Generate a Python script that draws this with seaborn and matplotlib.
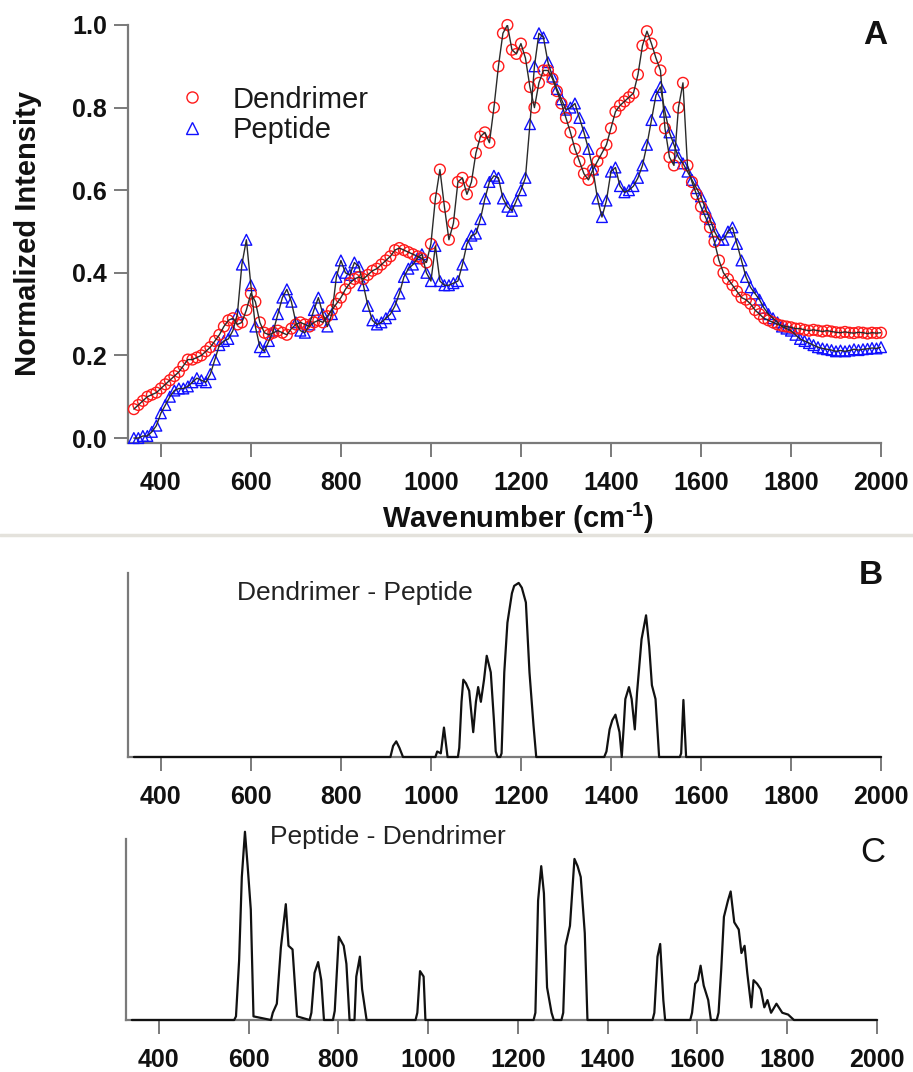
import numpy as np
import pandas as pd
import matplotlib
matplotlib.use("Agg")
import matplotlib.pyplot as plt
from matplotlib.lines import Line2D
import seaborn as sns

# ---------------- data ----------------
WAVENUMBER = list(range(340, 2001, 10))

DENDRIMER = [
    0.07, 0.08, 0.09, 0.10, 0.105, 0.11, 0.12, 0.13, 0.14, 0.15,        # 340-430
    0.16, 0.175, 0.19, 0.19, 0.195, 0.20, 0.21, 0.22, 0.235, 0.25,      # 440-530
    0.27, 0.285, 0.29, 0.275, 0.28, 0.31, 0.35, 0.33, 0.28, 0.255,      # 540-630
    0.25, 0.255, 0.26, 0.255, 0.25, 0.265, 0.275, 0.28, 0.275, 0.27,    # 640-730
    0.28, 0.285, 0.28, 0.295, 0.31, 0.325, 0.34, 0.36, 0.375, 0.385,    # 740-830
    0.39, 0.385, 0.395, 0.405, 0.41, 0.42, 0.43, 0.44, 0.455, 0.46,     # 840-930
    0.455, 0.45, 0.445, 0.44, 0.435, 0.425, 0.47, 0.58, 0.65, 0.56,     # 940-1030
    0.48, 0.52, 0.62, 0.63, 0.59, 0.62, 0.69, 0.73, 0.74, 0.715,        # 1040-1130
    0.80, 0.90, 0.98, 1.00, 0.94, 0.93, 0.955, 0.92, 0.85, 0.80,        # 1140-1230
    0.86, 0.89, 0.89, 0.87, 0.84, 0.81, 0.775, 0.74, 0.70, 0.67,        # 1240-1330
    0.64, 0.625, 0.65, 0.67, 0.69, 0.71, 0.75, 0.79, 0.805, 0.815,      # 1340-1430
    0.825, 0.835, 0.88, 0.95, 0.985, 0.955, 0.92, 0.89, 0.75, 0.68,     # 1440-1530
    0.66, 0.80, 0.86, 0.66, 0.62, 0.59, 0.56, 0.535, 0.51, 0.475,       # 1540-1630
    0.43, 0.40, 0.385, 0.37, 0.355, 0.34, 0.335, 0.325, 0.31, 0.30,     # 1640-1730
    0.29, 0.285, 0.28, 0.275, 0.272, 0.27, 0.268, 0.265, 0.265, 0.262,  # 1740-1830
    0.26, 0.262, 0.26, 0.258, 0.26, 0.258, 0.256, 0.255, 0.257, 0.255,  # 1840-1930
    0.254, 0.256, 0.255, 0.253, 0.255, 0.254, 0.255,                    # 1940-2000
]

PEPTIDE = [
    0.0, 0.0, 0.005, 0.005, 0.015, 0.03, 0.06, 0.08, 0.10, 0.115,       # 340-430
    0.12, 0.12, 0.125, 0.135, 0.145, 0.14, 0.135, 0.155, 0.19, 0.225,   # 440-530
    0.235, 0.24, 0.26, 0.30, 0.42, 0.48, 0.37, 0.27, 0.22, 0.21,        # 540-630
    0.235, 0.26, 0.30, 0.34, 0.36, 0.33, 0.28, 0.26, 0.255, 0.275,      # 640-730
    0.31, 0.34, 0.30, 0.27, 0.30, 0.39, 0.43, 0.40, 0.395, 0.425,       # 740-830
    0.415, 0.37, 0.32, 0.285, 0.275, 0.28, 0.29, 0.30, 0.32, 0.35,      # 840-930
    0.39, 0.41, 0.42, 0.435, 0.445, 0.40, 0.38, 0.465, 0.38, 0.37,      # 940-1030
    0.37, 0.375, 0.38, 0.42, 0.47, 0.49, 0.495, 0.53, 0.58, 0.62,       # 1040-1130
    0.635, 0.63, 0.58, 0.56, 0.55, 0.575, 0.60, 0.63, 0.76, 0.90,       # 1140-1230
    0.98, 0.97, 0.91, 0.875, 0.845, 0.82, 0.795, 0.80, 0.81, 0.775,     # 1240-1330
    0.74, 0.70, 0.65, 0.58, 0.535, 0.575, 0.645, 0.655, 0.61, 0.595,    # 1340-1430
    0.60, 0.61, 0.63, 0.66, 0.71, 0.77, 0.83, 0.85, 0.79, 0.74,         # 1440-1530
    0.71, 0.68, 0.665, 0.645, 0.625, 0.605, 0.585, 0.555, 0.53, 0.50,   # 1540-1630
    0.48, 0.48, 0.50, 0.51, 0.47, 0.43, 0.39, 0.365, 0.35, 0.335,       # 1640-1730
    0.315, 0.30, 0.29, 0.28, 0.27, 0.265, 0.26, 0.25, 0.24, 0.235,      # 1740-1830
    0.23, 0.225, 0.22, 0.217, 0.215, 0.213, 0.21, 0.212, 0.21, 0.212,   # 1840-1930
    0.215, 0.213, 0.215, 0.216, 0.218, 0.217, 0.22,                     # 1940-2000
]

DIFF_DP_X = [340, 910, 916, 923, 930, 938, 1010, 1014, 1022, 1029, 1033, 1037,
             1060, 1063, 1068, 1072, 1078, 1085, 1094, 1100, 1105, 1111, 1118, 1124,
             1133, 1140, 1144, 1148, 1154, 1157, 1163, 1170, 1180, 1185, 1195,
             1202, 1211, 1219, 1228, 1234, 1385, 1390, 1397, 1403, 1410, 1419,
             1424, 1428, 1432, 1440, 1446, 1453, 1458, 1468, 1478, 1485, 1491,
             1499, 1504, 1507, 1553, 1556, 1561, 1564, 1567, 2000]
DIFF_DP_Y = [0, 0, 0.06, 0.085, 0.05, 0, 0, 0.03, 0.02, 0.16, 0.08, 0,
             0, 0.05, 0.30, 0.42, 0.40, 0.36, 0.135, 0.30, 0.38, 0.30, 0.42, 0.55,
             0.46, 0.20, 0.03, 0, 0, 0.02, 0.46, 0.73, 0.89, 0.93, 0.946,
             0.92, 0.84, 0.46, 0.17, 0, 0, 0.03, 0.15, 0.20, 0.23, 0.135,
             0.0, 0.15, 0.315, 0.38, 0.315, 0.15, 0.35, 0.64, 0.77, 0.60, 0.39,
             0.315, 0.12, 0, 0, 0.02, 0.31, 0.15, 0, 0]

DIFF_PD_X = [340, 568, 572, 579, 585, 592, 598, 605, 611, 650, 654, 663, 672,
             683, 689, 698, 708, 736, 740, 747, 755, 762, 768, 788, 792, 801, 812,
             818, 825, 836, 840, 848, 853, 863, 972, 976, 982, 990, 994, 1235,
             1239, 1245, 1252, 1258, 1265, 1275, 1280, 1297, 1301, 1306, 1316,
             1326, 1333, 1340, 1349, 1355, 1500, 1504, 1511, 1517, 1524, 1528,
             1584, 1588, 1595, 1601, 1607, 1614, 1624, 1630, 1643, 1647, 1653,
             1659, 1668, 1674, 1682, 1692, 1698, 1705, 1711, 1720, 1725, 1733,
             1741, 1749, 1756, 1764, 1776, 1789, 1802, 1815, 2000]
DIFF_PD_Y = [0, 0, 0.02, 0.33, 0.79, 1.04, 0.85, 0.61, 0.02, 0, 0.04, 0.09, 0.40,
             0.64, 0.41, 0.39, 0.02, 0, 0.04, 0.26, 0.32, 0.22, 0, 0, 0.05, 0.46, 0.41,
             0.31, 0, 0, 0.24, 0.35, 0.17, 0, 0, 0.04, 0.27, 0.24, 0, 0,
             0.04, 0.66, 0.85, 0.70, 0.18, 0.04, 0, 0, 0.04, 0.41, 0.52,
             0.89, 0.85, 0.79, 0.48, 0, 0, 0.04, 0.35, 0.42, 0.11, 0,
             0, 0.04, 0.20, 0.22, 0.30, 0.19, 0.11, 0, 0, 0.04, 0.28,
             0.57, 0.66, 0.71, 0.54, 0.50, 0.37, 0.41, 0.26, 0.07, 0.22, 0.20,
             0.17, 0.07, 0.11, 0.04, 0.09, 0.04, 0.03, 0, 0]

X_TICKS = [400, 600, 800, 1000, 1200, 1400, 1600, 1800, 2000]
Y_TICKS = [0.0, 0.2, 0.4, 0.6, 0.8, 1.0]

# ---------------- style ----------------
sns.set_theme(style="ticks")
plt.rcParams["font.family"] = ["Liberation Sans", "DejaVu Sans"]
plt.rcParams["mathtext.fontset"] = "custom"
plt.rcParams["mathtext.rm"] = "Liberation Sans:bold"
plt.rcParams["mathtext.it"] = "Liberation Sans:bold"
plt.rcParams["mathtext.bf"] = "Liberation Sans:bold"

W, H = 913, 1072
fig = plt.figure(figsize=(W / 100, H / 100), dpi=100)
fig.patch.set_facecolor("white")

def axes_px(left, top, right, bottom):
    return fig.add_axes([left / W, 1 - bottom / H, (right - left) / W, (bottom - top) / H])

SPINE = "#7a7a7a"
XLIM = (327, 2000)

def style_axes(ax, yticks=None):
    sns.despine(ax=ax)
    for s in ("left", "bottom"):
        ax.spines[s].set_color(SPINE)
        ax.spines[s].set_linewidth(1.6)
    ax.set_xlim(*XLIM)
    ax.set_xticks(X_TICKS)
    ax.set_xticklabels([str(t) for t in X_TICKS], fontweight="bold", fontsize=18, color="#111")
    ax.tick_params(axis="x", direction="out", length=10, width=1.4, color=SPINE, pad=10)
    if yticks is None:
        ax.set_yticks([])
    else:
        ax.set_yticks(yticks)
        ax.set_yticklabels([f"{t:.1f}" for t in yticks], fontweight="bold", fontsize=18, color="#111")
        ax.tick_params(axis="y", direction="out", length=10, width=1.4, color=SPINE, pad=5)
    ax.set_xlabel("")
    ax.set_ylabel("")
    ax.set_facecolor("white")

df = pd.DataFrame({"wn": WAVENUMBER, "Dendrimer": DENDRIMER, "Peptide": PEPTIDE})

# ---------------- Panel A ----------------
axA = axes_px(128, 25, 881, 443)
sns.scatterplot(data=df, x="wn", y="Peptide", ax=axA, marker="^", s=60,
                facecolor="none", edgecolor="#1010ff", linewidth=1.0, clip_on=False, zorder=3)
sns.scatterplot(data=df, x="wn", y="Dendrimer", ax=axA, marker="o", s=60,
                facecolor="none", edgecolor="#ff1a1a", linewidth=1.0, clip_on=False, zorder=4)
sns.lineplot(data=df, x="wn", y="Peptide", ax=axA, color="#2a2a2a", lw=1.0, zorder=5)
sns.lineplot(data=df, x="wn", y="Dendrimer", ax=axA, color="#2a2a2a", lw=1.0, zorder=5)
for c in axA.collections:
    c.set_facecolor("none")
axA.set_ylim(-0.012, 1.0)
style_axes(axA, Y_TICKS)

handles = [Line2D([], [], marker="o", ls="", markerfacecolor="none", markeredgecolor="#ff1a1a",
                  markersize=8, markeredgewidth=1.0),
           Line2D([], [], marker="^", ls="", markerfacecolor="none", markeredgecolor="#1010ff",
                  markersize=8, markeredgewidth=1.0)]
leg = axA.legend(handles, ["Dendrimer", "Peptide"], loc="upper left",
                 bbox_to_anchor=(163 / W, 1 - 71 / H), bbox_transform=fig.transFigure,
                 frameon=False, borderpad=0, handlelength=1.0, handletextpad=0.9,
                 labelspacing=0.1, prop={"size": 21})
for t in leg.get_texts():
    t.set_color("#1a1a1a")

fig.text(875 / W, 1 - 35 / H, "A", fontsize=24, fontweight="bold", ha="center", va="center", color="#111")
fig.text(28 / W, 1 - 233 / H, "Normalized Intensity", rotation=90, fontsize=21,
         fontweight="bold", ha="center", va="center", color="#111")
fig.text(518 / W, 1 - 518 / H, r"Wavenumber (cm$^{\text{-}1}$)", fontsize=21,
         fontweight="bold", ha="center", va="center", color="#111")

# separator
fig.add_artist(Line2D([0, 1], [1 - 535 / H, 1 - 535 / H], transform=fig.transFigure,
                      color="#e4e2dc", lw=2.5))

# ---------------- Panel B ----------------
axB = axes_px(128, 573, 881, 757)
sns.lineplot(x=DIFF_DP_X, y=DIFF_DP_Y, ax=axB, color="#111", lw=1.6, clip_on=False, zorder=5)
axB.set_ylim(0, 1)
style_axes(axB)
fig.text(237 / W, 1 - 593 / H, "Dendrimer - Peptide", fontsize=19, ha="left", va="center", color="#222")
fig.text(871 / W, 1 - 575 / H, "B", fontsize=24, fontweight="bold", ha="center", va="center", color="#111")

# ---------------- Panel C ----------------
axC = axes_px(126, 839, 877, 1020)
sns.lineplot(x=DIFF_PD_X, y=DIFF_PD_Y, ax=axC, color="#111", lw=1.6, clip_on=False, zorder=5)
axC.set_ylim(0, 1)
style_axes(axC)
fig.text(270 / W, 1 - 837 / H, "Peptide - Dendrimer", fontsize=19, ha="left", va="center", color="#222")
fig.text(873 / W, 1 - 853 / H, "C", fontsize=25, ha="center", va="center", color="#111")

fig.savefig("out.png", dpi=100, facecolor="white")
